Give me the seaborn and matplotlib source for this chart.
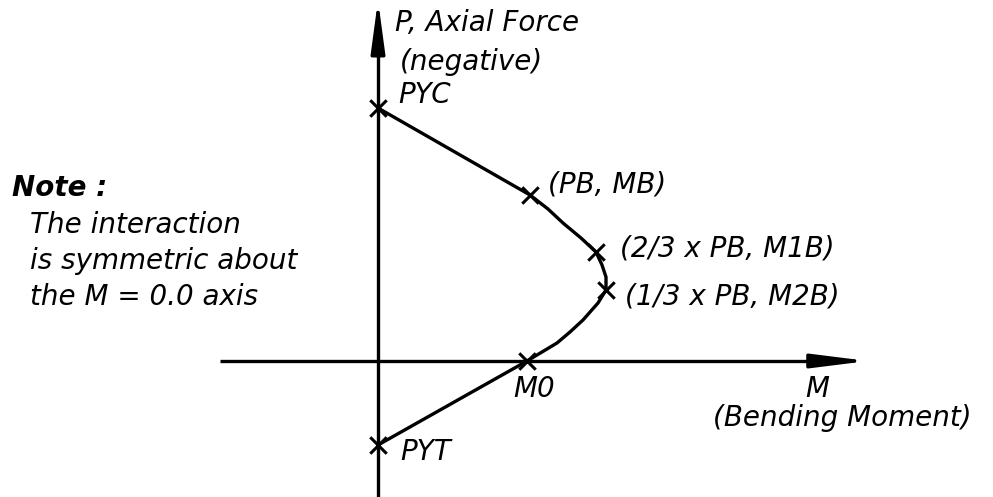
import matplotlib
matplotlib.use("Agg")
import matplotlib.pyplot as plt
import seaborn as sns
import pandas as pd

# Key points on the interaction curve (M, P) in drawing units
point_labels = ["PYC", "(PB, MB)", "(2/3 x PB, M1B)", "(1/3 x PB, M2B)", "M0", "PYT"]
point_m = [0, 152, 218, 228, 149, 0]
point_p = [253, 166, 109, 71, 0, -84]

# Curve trace (M, P)
curve_m = [0, 152, 170, 185, 203, 218, 224, 228, 228, 220, 205, 192, 179, 149, 0]
curve_p = [253, 166, 152, 138, 123, 109, 96, 84, 71, 58, 41, 29, 18, 0, -84]

sns.set_theme(style="white")
plt.rcParams['font.family'] = ['DejaVu Sans']

fig = plt.figure(figsize=(9.93, 4.97), dpi=100)
ax = fig.add_axes([0, 0, 1, 1])
ax.set_xlim(-378, 615)
ax.set_ylim(-136, 361)
ax.axis("off")

# Axes with arrows
ax.plot([0, 0], [-136, 320], color="black", lw=2.4, solid_capstyle="butt")
ax.annotate("", xy=(0, 361), xytext=(0, 305),
            arrowprops=dict(arrowstyle="-|>,head_length=2.6,head_width=0.35",
                            color="black", lw=2.4, shrinkA=0, shrinkB=0))
ax.plot([-158, 450], [0, 0], color="black", lw=2.4, solid_capstyle="butt")
ax.annotate("", xy=(490, 0), xytext=(430, 0),
            arrowprops=dict(arrowstyle="-|>,head_length=2.8,head_width=0.35",
                            color="black", lw=2.4, shrinkA=0, shrinkB=0))

curve = pd.DataFrame({"M": curve_m, "P": curve_p})
sns.lineplot(data=curve, x="M", y="P", sort=False, color="black", lw=2.4, ax=ax,
             estimator=None)
pts = pd.DataFrame({"M": point_m, "P": point_p, "label": point_labels})
sns.scatterplot(data=pts, x="M", y="P", marker="x", s=140, color="black",
                linewidth=2.2, ax=ax, zorder=5)

tk = dict(fontstyle="italic", color="black", fontsize=20)
# label offsets in drawing units (dx, dy)
offs = [(20, 13), (18, 10), (24, 4), (19, -7), (-14, -28), (22, -7)]
for lab, m, p, (dx, dy) in zip(point_labels, point_m, point_p, offs):
    ax.text(m + dx, p + dy, lab, ha="left", va="center", **tk)

ax.text(17, 338, "P, Axial Force", ha="left", va="center", **tk)
ax.text(22, 299, "(negative)", ha="left", va="center", **tk)
ax.text(439, -28, "M", ha="center", va="center", **tk)
ax.text(464, -57, "(Bending Moment)", ha="center", va="center", **tk)

ax.text(-366, 173, "Note :", ha="left", va="center", fontweight="bold", **tk)
note = ["The interaction", "is symmetric about", "the M = 0.0 axis"]
for i, line in enumerate(note):
    ax.text(-348, 136 - i * 36, line, ha="left", va="center", **tk)

fig.savefig("out.png", dpi=100)
